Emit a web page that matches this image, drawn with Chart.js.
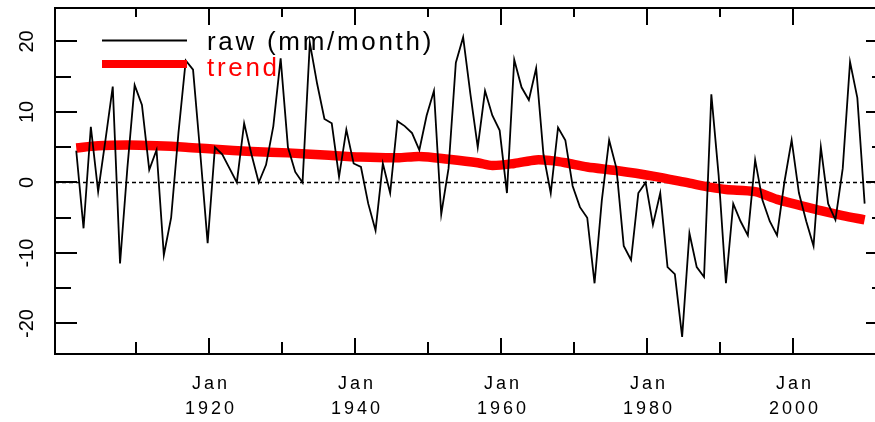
<!DOCTYPE html>
<html>
<head>
<meta charset="utf-8">
<script src="https://cdn.jsdelivr.net/npm/chart.js@4/dist/chart.umd.min.js"></script>
<style>
html,body{margin:0;padding:0;background:#ffffff;overflow:hidden;}
#wrap{width:875px;height:422px;position:relative;overflow:hidden;}
#c{position:absolute;left:0;top:0;}
</style>
</head>
<body>
<div id="wrap"><canvas id="c" width="890" height="422"></canvas></div>
<script>
// ---- data ----
const years = [];
for (let yr = 1901; yr <= 2009; yr++) years.push(yr);
const TIME_OFFSET = 0.75; // annual values stamped late in the year
const rawValues = [
  4.5, -6.5, 7.9, -1.3, 6, 13.6, -11.5, 2, 13.8, 11,          // 1901-1910
  1.8, 4.6, -10.3, -5, 7, 17.3, 16, 4, -8.6, 5,               // 1911-1920
  4, 2, 0, 8.4, 4, 0, 2.5, 8, 17.6, 5,                        // 1921-1930
  1.5, 0, 19.8, 14, 9, 8.4, 0.8, 7.5, 2.7, 2.2,               // 1931-1940
  -3, -6.8, 2.7, -1.5, 8.7, 8, 7, 4.6, 9.5, 13,               // 1941-1950
  -4.5, 2, 17, 20.6, 12.5, 5, 13, 9.5, 7.4, -1.5,             // 1951-1960
  17.4, 13.5, 11.7, 16.2, 4, -1.5, 7.8, 6, -0.5, -3.5,        // 1961-1970
  -5, -14.3, -2.5, 6, 2, -9, -11, -1.5, 0, -6,                // 1971-1980
  -1.5, -12, -13, -21.9, -7.2, -12, -13.4, 12.5, 1, -14.3,    // 1981-1990
  -3, -5.5, -7.5, 3.2, -2.5, -5.5, -7.5, 0, 6, -1.5,          // 1991-2000
  -5.5, -9, 5, -3, -5.3, 2, 17.1, 12, -3                      // 2001-2009
];
const trendYears = [1901, 1904, 1908, 1912, 1916, 1920, 1925, 1930, 1935, 1940, 1945, 1948, 1952, 1956, 1958, 1961, 1964, 1966, 1968, 1971, 1975, 1980, 1985, 1988, 1990, 1994, 1997, 2000, 2003, 2006, 2009];
const trendValues = [4.9, 5.2, 5.3, 5.2, 5.0, 4.7, 4.4, 4.2, 3.9, 3.6, 3.5, 3.7, 3.3, 2.8, 2.4, 2.7, 3.2, 3.1, 2.8, 2.2, 1.7, 0.9, -0.1, -0.7, -1.0, -1.3, -2.4, -3.2, -4.0, -4.7, -5.3];
const seriesLabels = ['raw (mm/month)', 'trend'];
const xTickYears = [1910, 1920, 1930, 1940, 1950, 1960, 1970, 1980, 1990, 2000];
const xLabelYears = [1920, 1940, 1960, 1980, 2000];
const xLabelMonth = 'Jan';
const yTickValues = [-20, -15, -10, -5, 0, 5, 10, 15, 20];
const yLabelValues = [-20, -10, 0, 10, 20];
const X_MIN = 1898.84, X_MAX = 2012.95;
const Y_MIN = -24.33, Y_MAX = 24.75;

const FONT = '"Liberation Sans", Arial, Helvetica, sans-serif';

const decor = {
  id: 'decor',
  beforeDatasetsDraw(chart) {
    const {ctx, chartArea: a, scales: {y}} = chart;
    const y0 = y.getPixelForValue(0);
    ctx.save();
    ctx.strokeStyle = '#000';
    ctx.lineWidth = 1.5;
    ctx.setLineDash([4, 3]);
    ctx.beginPath();
    ctx.moveTo(a.left, y0);
    ctx.lineTo(a.right, y0);
    ctx.stroke();
    ctx.restore();
  },
  afterDraw(chart) {
    const {ctx, chartArea: a, scales: {x, y}} = chart;
    ctx.save();
    ctx.strokeStyle = '#000';
    ctx.lineWidth = 2;
    ctx.strokeRect(a.left, a.top, a.right - a.left, a.bottom - a.top);
    ctx.beginPath();
    xTickYears.forEach(yr => {
      const px = Math.round(x.getPixelForValue(yr));
      const lab = xLabelYears.includes(yr);
      ctx.moveTo(px, a.top); ctx.lineTo(px, a.top + (lab ? 17 : 9));
      ctx.moveTo(px, a.bottom); ctx.lineTo(px, a.bottom - (lab ? 16 : 12));
    });
    yTickValues.forEach(v => {
      const py = Math.round(y.getPixelForValue(v));
      const lab = yLabelValues.includes(v);
      ctx.moveTo(a.left, py); ctx.lineTo(a.left + (lab ? 22 : 16), py);
      ctx.moveTo(a.right, py); ctx.lineTo(a.right - (lab ? 22 : 16), py);
    });
    ctx.stroke();

    ctx.fillStyle = '#000';
    ctx.font = '18px ' + FONT;
    ctx.textAlign = 'center';
    ctx.textBaseline = 'middle';
    ctx.letterSpacing = '3px';
    xLabelYears.forEach(yr => {
      const px = x.getPixelForValue(yr) + 1.5;
      ctx.fillText(xLabelMonth, px, a.bottom + 30);
      ctx.fillText(String(yr), px, a.bottom + 55);
    });
    ctx.font = '20px ' + FONT;
    ctx.letterSpacing = '0px';
    yLabelValues.forEach(v => {
      const py = y.getPixelForValue(v);
      ctx.save();
      ctx.translate(a.left - 28, py);
      ctx.rotate(-Math.PI / 2);
      ctx.fillText(String(v), 0, 0);
      ctx.restore();
    });

    const ds = chart.data.datasets;
    const rows = [{y: 40.5, ty: 50}, {y: 64, ty: 76}];
    ctx.font = '26px ' + FONT;
    ctx.letterSpacing = '2.7px';
    ctx.textAlign = 'left';
    ctx.textBaseline = 'alphabetic';
    ds.forEach((d, i) => {
      ctx.beginPath();
      ctx.strokeStyle = d.borderColor;
      ctx.lineWidth = i === 0 ? 1.8 : 8;
      ctx.lineCap = 'butt';
      ctx.moveTo(102, rows[i].y);
      ctx.lineTo(187, rows[i].y);
      ctx.stroke();
      ctx.fillStyle = d.borderColor;
      ctx.fillText(d.label, 207, rows[i].ty);
    });
    ctx.restore();
  }
};

new Chart(document.getElementById('c'), {
  type: 'line',
  data: {
    datasets: [
      {
        label: seriesLabels[0],
        data: years.map((yr, i) => ({x: yr + TIME_OFFSET, y: rawValues[i]})),
        borderColor: '#000000',
        borderWidth: 1.8,
        pointRadius: 0,
        tension: 0,
        fill: false
      },
      {
        label: seriesLabels[1],
        data: trendYears.map((yr, i) => ({x: yr + TIME_OFFSET, y: trendValues[i]})),
        borderColor: '#ff0000',
        borderWidth: 9.5,
        borderCapStyle: 'butt',
        pointRadius: 0,
        tension: 0.3,
        fill: false
      }
    ]
  },
  options: {
    responsive: false,
    animation: false,
    devicePixelRatio: 1,
    layout: {padding: {left: 55, top: 8, right: 2, bottom: 68}},
    scales: {
      x: {type: 'linear', min: X_MIN, max: X_MAX, display: false},
      y: {type: 'linear', min: Y_MIN, max: Y_MAX, display: false}
    },
    plugins: {legend: {display: false}, tooltip: {enabled: false}}
  },
  plugins: [decor]
});
</script>
</body>
</html>
